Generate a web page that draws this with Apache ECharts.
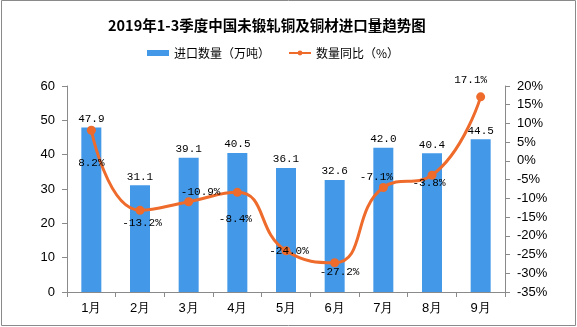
<!DOCTYPE html>
<html><head><meta charset="utf-8">
<script src="https://cdn.jsdelivr.net/npm/echarts@6/dist/echarts.min.js"></script>
<style>html,body{margin:0;padding:0;background:#fff}#c{width:577px;height:327px}</style>
</head><body><div id="c"></div>
<script>
const categories = ['1月','2月','3月','4月','5月','6月','7月','8月','9月'];
const importVolume = [47.9, 31.1, 39.1, 40.5, 36.1, 32.6, 42.0, 40.4, 44.5];
const yoyChange = [8.2, -13.2, -10.9, -8.4, -24.0, -27.2, -7.1, -3.8, 17.1];
const leftTicks = {min: 0, max: 60, interval: 10};
const rightTicks = {min: -35, max: 20, interval: 5};
const lineLabelOffsets = [[0,33],[2,13],[12,-10],[-2,27],[3,0],[5,9],[-7,-10],[-3,8],[-10,-17]];

const monoFont = 'Liberation Mono';
const chart = echarts.init(document.getElementById('c'));
chart.setOption({
  animation: false,
  backgroundColor: '#fff',
  title: {
    text: '2019年1-3季度中国未锻轧铜及铜材进口量趋势图',
    left: 103, top: 13,
    textStyle: {fontFamily: 'Noto Sans CJK SC', fontWeight: 'bold', fontSize: 14.5, color: '#000'}
  },
  legend: {
    left: 142, top: 42, itemGap: 18, itemWidth: 22, itemHeight: 6,
    textStyle: {fontFamily: 'Noto Sans CJK SC', fontSize: 12, color: '#000'},
    data: [{name: '进口数量（万吨）', icon: 'rect'}, {name: '数量同比（%）'}]
  },
  graphic: [{type: 'rect', shape: {x: 1.5, y: 0.5, width: 574, height: 325}, style: {fill: 'none', stroke: '#8a8a8a', lineWidth: 1}, silent: true}],
  grid: {left: 67, right: 72, top: 86, bottom: 35},
  xAxis: {
    type: 'category', data: categories,
    axisLine: {lineStyle: {color: '#8a8a8a'}},
    axisTick: {show: true, alignWithLabel: false, length: 5, lineStyle: {color: '#8a8a8a'}},
    axisLabel: {color: '#000', fontFamily: 'Liberation Sans', fontSize: 13, margin: 10}
  },
  yAxis: [{
    type: 'value', min: leftTicks.min, max: leftTicks.max, interval: leftTicks.interval,
    splitLine: {show: false},
    axisLine: {show: true, lineStyle: {color: '#8a8a8a'}},
    axisTick: {show: true, length: 5, lineStyle: {color: '#8a8a8a'}},
    axisLabel: {color: '#000', fontFamily: 'Liberation Sans', fontSize: 13, margin: 12}
  }, {
    type: 'value', min: rightTicks.min, max: rightTicks.max, interval: rightTicks.interval,
    position: 'right',
    splitLine: {show: false},
    axisLine: {show: true, lineStyle: {color: '#8a8a8a'}},
    axisTick: {show: true, length: 5, lineStyle: {color: '#8a8a8a'}},
    axisLabel: {color: '#000', fontFamily: 'Liberation Sans', fontSize: 13, margin: 12, formatter: '{value}%'}
  }],
  series: [{
    name: '进口数量（万吨）', type: 'bar', data: importVolume, barWidth: 20,
    itemStyle: {color: '#4399E8'},
    label: {show: true, position: 'top', distance: 3, color: '#000', fontFamily: monoFont, fontSize: 11,
      formatter: p => p.value.toFixed(1)}
  }, {
    name: '数量同比（%）', type: 'line', yAxisIndex: 1, smooth: 0.5,
    data: yoyChange.map((v, i) => ({value: v, label: {offset: lineLabelOffsets[i]}})),
    symbol: 'circle', symbolSize: 9,
    lineStyle: {color: '#EE6B2C', width: 3},
    itemStyle: {color: '#EE6B2C'},
    label: {show: true, position: 'inside', color: '#000', fontFamily: monoFont, fontSize: 11,
      formatter: p => p.value.toFixed(1) + '%'}
  }]
});
</script></body></html>
